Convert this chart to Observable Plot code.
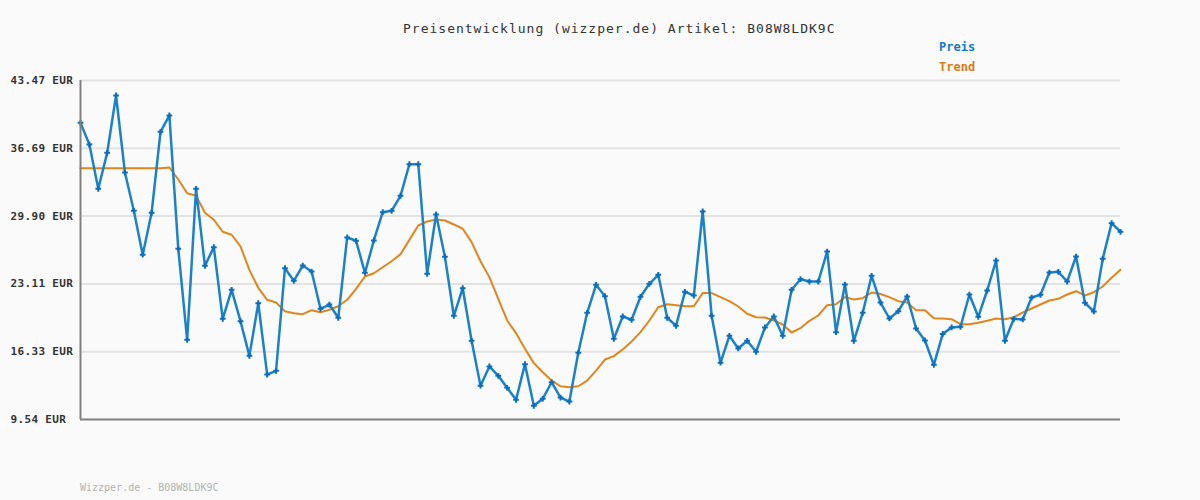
<!DOCTYPE html>
<html>
<head>
<meta charset="utf-8">
<script src="https://cdn.jsdelivr.net/npm/d3@7"></script>
<script src="https://cdn.jsdelivr.net/npm/@observablehq/plot@0.6"></script>
<style>
  html, body { margin: 0; padding: 0; background: #fafafa; }
  #chart svg { display: block; }
</style>
</head>
<body>
<div id="chart"></div>
<script>
const title = "Preisentwicklung (wizzper.de) Artikel: B08W8LDK9C";
const footer = "Wizzper.de - B08W8LDK9C";
const seriesNames = ["Preis", "Trend"];
const yTicks = [9.54, 16.33, 23.11, 29.90, 36.69, 43.47];

const preis = [
  39.23, 37.06, 32.63, 36.23, 41.97, 34.26, 30.43, 26.03, 30.23, 38.33,
  39.97, 26.63, 17.52, 32.63, 24.92, 26.79, 19.62, 22.52, 19.38, 15.91,
  21.18, 14.04, 14.41, 24.68, 23.42, 24.95, 24.35, 20.62, 21.05, 19.72,
  27.76, 27.43, 24.22, 27.46, 30.29, 30.43, 31.93, 35.09, 35.09, 24.12,
  30.06, 25.82, 19.92, 22.68, 17.42, 12.92, 14.85, 13.91, 12.71, 11.51,
  15.08, 10.91, 11.61, 13.27, 11.74, 11.34, 16.22, 20.22, 23.02, 21.88,
  17.62, 19.85, 19.52, 21.82, 23.12, 24.02, 19.72, 18.92, 22.32, 21.95,
  30.36, 19.92, 15.22, 17.92, 16.65, 17.42, 16.32, 18.75, 19.85, 17.92,
  22.52, 23.58, 23.35, 23.35, 26.35, 18.28, 23.05, 17.42, 20.22, 23.92,
  21.24, 19.65, 20.38, 21.85, 18.65, 17.45, 15.01, 18.11, 18.75, 18.82,
  22.05, 19.82, 22.45, 25.45, 17.42, 19.62, 19.55, 21.75, 22.02, 24.25,
  24.32, 23.35, 25.85, 21.22, 20.35, 25.62, 29.19, 28.33
];

const trend = [
  34.69, 34.69, 34.69, 34.69, 34.69, 34.69, 34.69, 34.69, 34.69, 34.69,
  34.76, 33.56, 32.19, 31.93, 30.23, 29.53, 28.33, 28.03, 26.86, 24.52,
  22.72, 21.52, 21.25, 20.38, 20.18, 20.08, 20.48, 20.28, 20.52, 20.88,
  21.52, 22.62, 23.85, 24.18, 24.78, 25.38, 26.08, 27.52, 28.96, 29.36,
  29.56, 29.46, 29.06, 28.63, 27.29, 25.38, 23.79, 21.62, 19.45, 18.18,
  16.62, 15.18, 14.27, 13.44, 12.87, 12.77, 12.87, 13.44, 14.44, 15.54,
  15.88, 16.55, 17.35, 18.28, 19.45, 20.78, 21.08, 20.98, 20.88, 20.88,
  22.19, 22.19, 21.79, 21.38, 20.85, 20.12, 19.78, 19.75, 19.45, 19.05,
  18.25, 18.68, 19.42, 19.95, 20.98, 21.08, 21.79, 21.55, 21.68, 22.25,
  22.10, 21.79, 21.38, 21.25, 20.48, 20.48, 19.68, 19.65, 19.58, 19.08,
  19.08, 19.22, 19.42, 19.65, 19.58, 19.78, 20.25, 20.65, 21.05, 21.45,
  21.62, 22.05, 22.38, 21.95, 22.28, 22.85, 23.72, 24.52
];

const blue = "#1b82c9";
const blueDark = "#0b6fbe";
const orange = "#e0861c";

const preisData = preis.map((v, i) => ({i, v}));
const trendData = trend.map((v, i) => ({i, v}));

const chart = Plot.plot({
  width: 1200,
  height: 500,
  marginLeft: 80,
  marginRight: 80,
  marginTop: 80,
  marginBottom: 81,
  style: {fontFamily: "DejaVu Sans Mono", background: "#fafafa", overflow: "visible"},
  x: {domain: [0, preis.length - 1], axis: null},
  y: {domain: [9.54, 43.47]},
  marks: [
    Plot.ruleY(yTicks.slice(1), {stroke: "#e3e3e3", strokeWidth: 2}),
    Plot.axisY({
      ticks: yTicks,
      tickSize: 0,
      tickPadding: 70,
      textAnchor: "start",
      tickFormat: d => d.toFixed(2) + " EUR",
      fontWeight: "bold",
      fontSize: 11,
      fill: "#333",
      label: null
    }),
    Plot.line(trendData, {x: "i", y: "v", stroke: orange, strokeWidth: 2}),
    Plot.line(preisData, {x: "i", y: "v", stroke: blue, strokeWidth: 2.5}),
    Plot.dot(preisData, {x: "i", y: "v", symbol: "plus", r: 2, stroke: blueDark, strokeWidth: 2}),
    Plot.ruleX([0], {stroke: "#808080", strokeWidth: 2}),
    Plot.ruleY([9.54], {stroke: "#808080", strokeWidth: 2})
  ]
});

const svg = d3.select(chart);
svg.selectAll("g[aria-label='y-axis tick label'] text").style("letter-spacing", "0.35px");

function addText(x, y, txt, opts) {
  const t = svg.append("text")
    .attr("x", x).attr("y", y)
    .attr("text-anchor", "start")
    .attr("font-family", "DejaVu Sans Mono")
    .attr("font-size", opts.size)
    .attr("fill", opts.fill)
    .text(txt);
  if (opts.bold) t.attr("font-weight", "bold");
  if (opts.ls) t.attr("letter-spacing", opts.ls);
  return t;
}

addText(403, 33, title, {size: 13, fill: "#333", ls: "1px"});
addText(939, 51, seriesNames[0], {size: 12, fill: "#1479c4", bold: true});
addText(939, 71, seriesNames[1], {size: 12, fill: "#d97c12", bold: true});
addText(80, 491, footer, {size: 10, fill: "#b3b3b3"});

document.getElementById("chart").appendChild(chart);
</script>
</body>
</html>
